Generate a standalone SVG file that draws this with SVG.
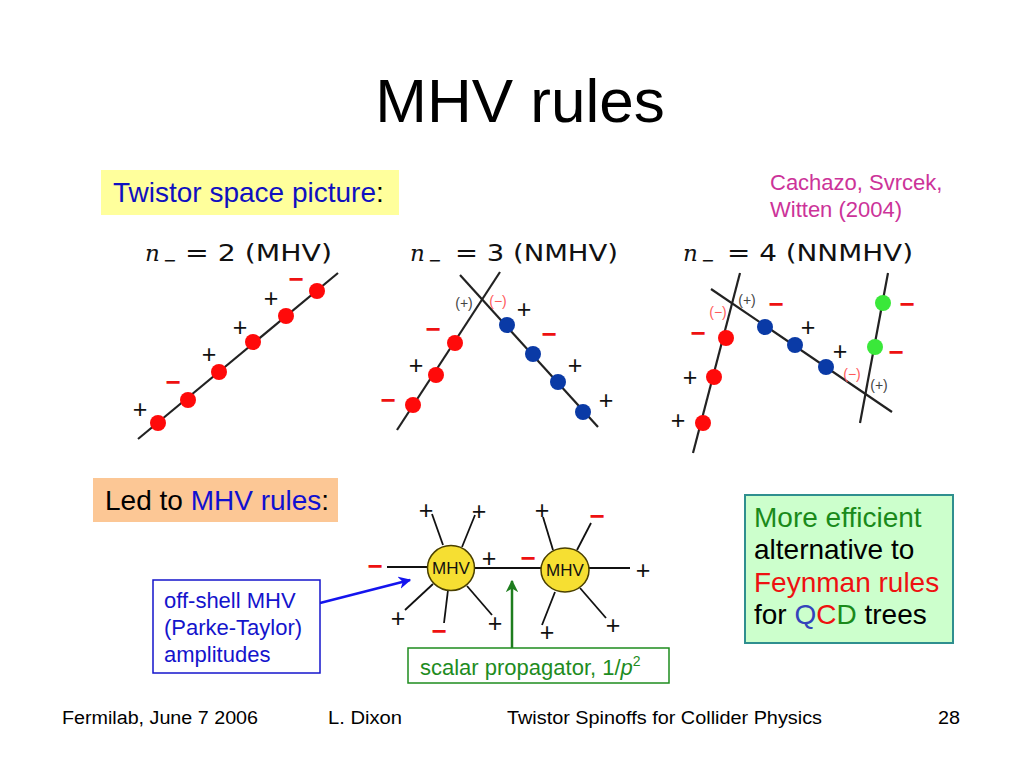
<svg xmlns="http://www.w3.org/2000/svg" width="1024" height="768" viewBox="0 0 1024 768">
<defs>
<style>
text{font-family:"Liberation Sans",Arial,sans-serif;}
.title{font-size:62px;fill:#000;}
.t28{font-size:28px;}
.t22{font-size:22px;}
.foot{font-size:18px;fill:#000;}
.tw{stroke:#222;stroke-width:2.2;fill:none;}
.leg{stroke:#111;stroke-width:1.8;fill:none;}
.r{fill:#ff0a0a;}
.b{fill:#0a3aa6;}
.g{fill:#3ae83a;}
.plus{font-size:25px;fill:#111;text-anchor:middle;}
.minus{font-size:26px;font-weight:bold;fill:#ee1111;text-anchor:middle;}
.sm{font-size:14px;text-anchor:middle;}
.smp{fill:#444;}
.smm{fill:#ff5a5a;}
.lbl{font-family:"DejaVu Sans",sans-serif;font-size:23px;fill:#111;}
.nvar{font-family:"DejaVu Serif",serif;font-style:italic;font-size:23px;fill:#111;}
.sub{font-family:"DejaVu Sans",sans-serif;font-size:16px;fill:#111;}
.blob{fill:#f6df32;stroke:#4a4000;stroke-width:1.5;}
.blobt{font-size:17px;fill:#111;text-anchor:middle;}
</style>
<marker id="ahb" viewBox="0 0 10 10" refX="9" refY="5" markerWidth="5" markerHeight="5" orient="auto" markerUnits="strokeWidth"><path d="M0,0 L10,5 L0,10 L3,5 z" fill="#1414ee"/></marker>
<marker id="ahg" viewBox="0 0 10 10" refX="9" refY="5" markerWidth="5" markerHeight="5" orient="auto" markerUnits="strokeWidth"><path d="M0,0 L10,5 L0,10 L3,5 z" fill="#1e7d1e"/></marker>
</defs>
<rect width="1024" height="768" fill="#fff"/>

<text id="title" class="title" x="520" y="122" text-anchor="middle">MHV rules</text>

<g id="twistor-label">
<rect x="101" y="170" width="298" height="45" fill="#ffff9c"/>
<text class="t28" x="113" y="202" fill="#1010c0">Twistor space picture<tspan fill="#000">:</tspan></text>
</g>

<g id="citation">
<text class="t22" x="770" y="190" fill="#cc3399">Cachazo, Svrcek,</text>
<text class="t22" x="770" y="217" fill="#cc3399">Witten (2004)</text>
</g>

<g id="panel-mhv">
<text class="nvar" x="145" y="261">n</text>
<text class="sub" x="163" y="266">−</text>
<text class="lbl" x="185" y="261" textLength="147" lengthAdjust="spacingAndGlyphs">= 2 (MHV)</text>
<line class="tw" x1="138" y1="439" x2="338" y2="273"/>
<circle class="r" cx="158" cy="423" r="8"/>
<circle class="r" cx="188" cy="400" r="8"/>
<circle class="r" cx="219" cy="372" r="8"/>
<circle class="r" cx="253" cy="342" r="8"/>
<circle class="r" cx="286" cy="316" r="8"/>
<circle class="r" cx="317" cy="291" r="8"/>
<text class="plus" x="140" y="418">+</text>
<text class="minus" x="173" y="391">−</text>
<text class="plus" x="209" y="363">+</text>
<text class="plus" x="240" y="336">+</text>
<text class="plus" x="271" y="307">+</text>
<text class="minus" x="296" y="288">−</text>
</g>

<g id="panel-nmhv">
<text class="nvar" x="410" y="261">n</text>
<text class="sub" x="428" y="266">−</text>
<text class="lbl" x="455" y="261" textLength="163" lengthAdjust="spacingAndGlyphs">= 3 (NMHV)</text>
<line class="tw" x1="397" y1="430" x2="500" y2="272"/>
<line class="tw" x1="460" y1="275" x2="598" y2="427"/>
<circle class="r" cx="413" cy="405" r="8"/>
<circle class="r" cx="436" cy="375" r="8"/>
<circle class="r" cx="455" cy="343" r="8"/>
<circle class="b" cx="507" cy="325" r="8"/>
<circle class="b" cx="533" cy="354" r="8"/>
<circle class="b" cx="558" cy="382" r="8"/>
<circle class="b" cx="583" cy="412" r="8"/>
<text class="minus" x="388" y="409">−</text>
<text class="plus" x="416" y="374">+</text>
<text class="minus" x="433" y="338">−</text>
<text class="sm smp" x="464" y="308">(+)</text>
<text class="sm smm" x="498" y="306">(−)</text>
<text class="plus" x="524" y="318">+</text>
<text class="minus" x="549" y="343">−</text>
<text class="plus" x="575" y="374">+</text>
<text class="plus" x="606" y="409">+</text>
</g>

<g id="panel-nnmhv">
<text class="nvar" x="683" y="261">n</text>
<text class="sub" x="701" y="266">−</text>
<text class="lbl" x="727" y="261" textLength="186" lengthAdjust="spacingAndGlyphs">= 4 (NNMHV)</text>
<line class="tw" x1="693" y1="453" x2="740" y2="273"/>
<line class="tw" x1="711" y1="289" x2="892" y2="412"/>
<line class="tw" x1="860" y1="423" x2="888" y2="273"/>
<circle class="r" cx="726" cy="338" r="8"/>
<circle class="r" cx="714" cy="377" r="8"/>
<circle class="r" cx="703" cy="423" r="8"/>
<circle class="b" cx="765" cy="327" r="8"/>
<circle class="b" cx="795" cy="345" r="8"/>
<circle class="b" cx="826" cy="367" r="8"/>
<circle class="g" cx="883" cy="303" r="8"/>
<circle class="g" cx="875" cy="347" r="8"/>
<text class="sm smp" x="747" y="305">(+)</text>
<text class="minus" x="776" y="313">−</text>
<text class="sm smm" x="718" y="317">(−)</text>
<text class="minus" x="698" y="342">−</text>
<text class="plus" x="690" y="386">+</text>
<text class="plus" x="678" y="429">+</text>
<text class="plus" x="808" y="336">+</text>
<text class="plus" x="840" y="360">+</text>
<text class="sm smm" x="852" y="379">(−)</text>
<text class="sm smp" x="879" y="390">(+)</text>
<text class="minus" x="907" y="313">−</text>
<text class="minus" x="896" y="361">−</text>
</g>

<g id="led-label">
<rect x="93" y="478" width="245" height="44" fill="#fcc795"/>
<text class="t28" x="105" y="510" fill="#000">Led to <tspan fill="#1010d0">MHV rules</tspan>:</text>
</g>

<g id="connectors">
<line class="leg" x1="387" y1="567" x2="428" y2="567"/>
<line class="leg" x1="443" y1="545" x2="432" y2="514"/>
<line class="leg" x1="462" y1="547" x2="475" y2="515"/>
<line class="leg" x1="475" y1="568" x2="541" y2="568"/>
<line class="leg" x1="433" y1="584" x2="405" y2="610"/>
<line class="leg" x1="448" y1="590" x2="444" y2="623"/>
<line class="leg" x1="467" y1="586" x2="492" y2="615"/>
<line class="leg" x1="553" y1="550" x2="543" y2="517"/>
<line class="leg" x1="577" y1="550" x2="591" y2="523"/>
<line class="leg" x1="589" y1="568" x2="630" y2="568"/>
<line class="leg" x1="555" y1="592" x2="542" y2="625"/>
<line class="leg" x1="580" y1="588" x2="606" y2="618"/>
<line x1="320" y1="603" x2="410" y2="580" stroke="#1414ee" stroke-width="2.5" marker-end="url(#ahb)"/>
<line x1="512" y1="648" x2="512" y2="581" stroke="#1e7d1e" stroke-width="2.5" marker-end="url(#ahg)"/>
</g>

<g id="mhv-left">
<ellipse class="blob" cx="451" cy="568" rx="23.5" ry="22.5"/>
<text class="blobt" x="451" y="574">MHV</text>
</g>
<g id="mhv-right">
<ellipse class="blob" cx="565" cy="570" rx="24" ry="22"/>
<text class="blobt" x="565" y="576">MHV</text>
</g>

<g id="leg-signs">
<text class="plus" x="426" y="519">+</text>
<text class="plus" x="479" y="520">+</text>
<text class="minus" x="375" y="575">−</text>
<text class="plus" x="489" y="567">+</text>
<text class="minus" x="528" y="567">−</text>
<text class="plus" x="542" y="519">+</text>
<text class="minus" x="597" y="525">−</text>
<text class="plus" x="643" y="579">+</text>
<text class="plus" x="398" y="627">+</text>
<text class="minus" x="439" y="640">−</text>
<text class="plus" x="495" y="632">+</text>
<text class="plus" x="547" y="641">+</text>
<text class="plus" x="613" y="634">+</text>
</g>

<g id="offshell-box">
<rect x="153" y="580" width="167" height="93" fill="#fff" stroke="#1414cc" stroke-width="1.5"/>
<text class="t22" x="164" y="608" fill="#1414cc">off-shell MHV</text>
<text class="t22" x="164" y="635" fill="#1414cc">(Parke-Taylor)</text>
<text class="t22" x="164" y="662" fill="#1414cc">amplitudes</text>
</g>

<g id="propagator-box">
<rect x="408" y="648" width="261" height="35" fill="#fff" stroke="#1e8c1e" stroke-width="1.5"/>
<text class="t22" x="420" y="675" fill="#1e8c1e">scalar propagator, 1/<tspan font-style="italic">p</tspan><tspan font-size="14" dy="-9">2</tspan></text>
</g>

<g id="efficient-box">
<rect x="745" y="495" width="208" height="148" fill="#ccffcc" stroke="#2f8f8f" stroke-width="2"/>
<text class="t28" x="754" y="527" fill="#1a8a1a">More efficient</text>
<text class="t28" x="754" y="559" fill="#000">alternative to</text>
<text class="t28" x="754" y="592" fill="#ee1111">Feynman rules</text>
<text class="t28" x="754" y="624" fill="#000">for <tspan fill="#3344bb">Q</tspan><tspan fill="#ee1111">C</tspan><tspan fill="#1a8a1a">D</tspan> trees</text>
</g>

<g id="footer">
<text class="foot" x="62" y="724" textLength="196" lengthAdjust="spacingAndGlyphs">Fermilab, June 7 2006</text>
<text class="foot" x="328" y="724" textLength="74" lengthAdjust="spacingAndGlyphs">L. Dixon</text>
<text class="foot" x="507" y="724" textLength="315" lengthAdjust="spacingAndGlyphs">Twistor Spinoffs for Collider Physics</text>
<text class="foot" x="938" y="724" textLength="22" lengthAdjust="spacingAndGlyphs">28</text>
</g>
</svg>
